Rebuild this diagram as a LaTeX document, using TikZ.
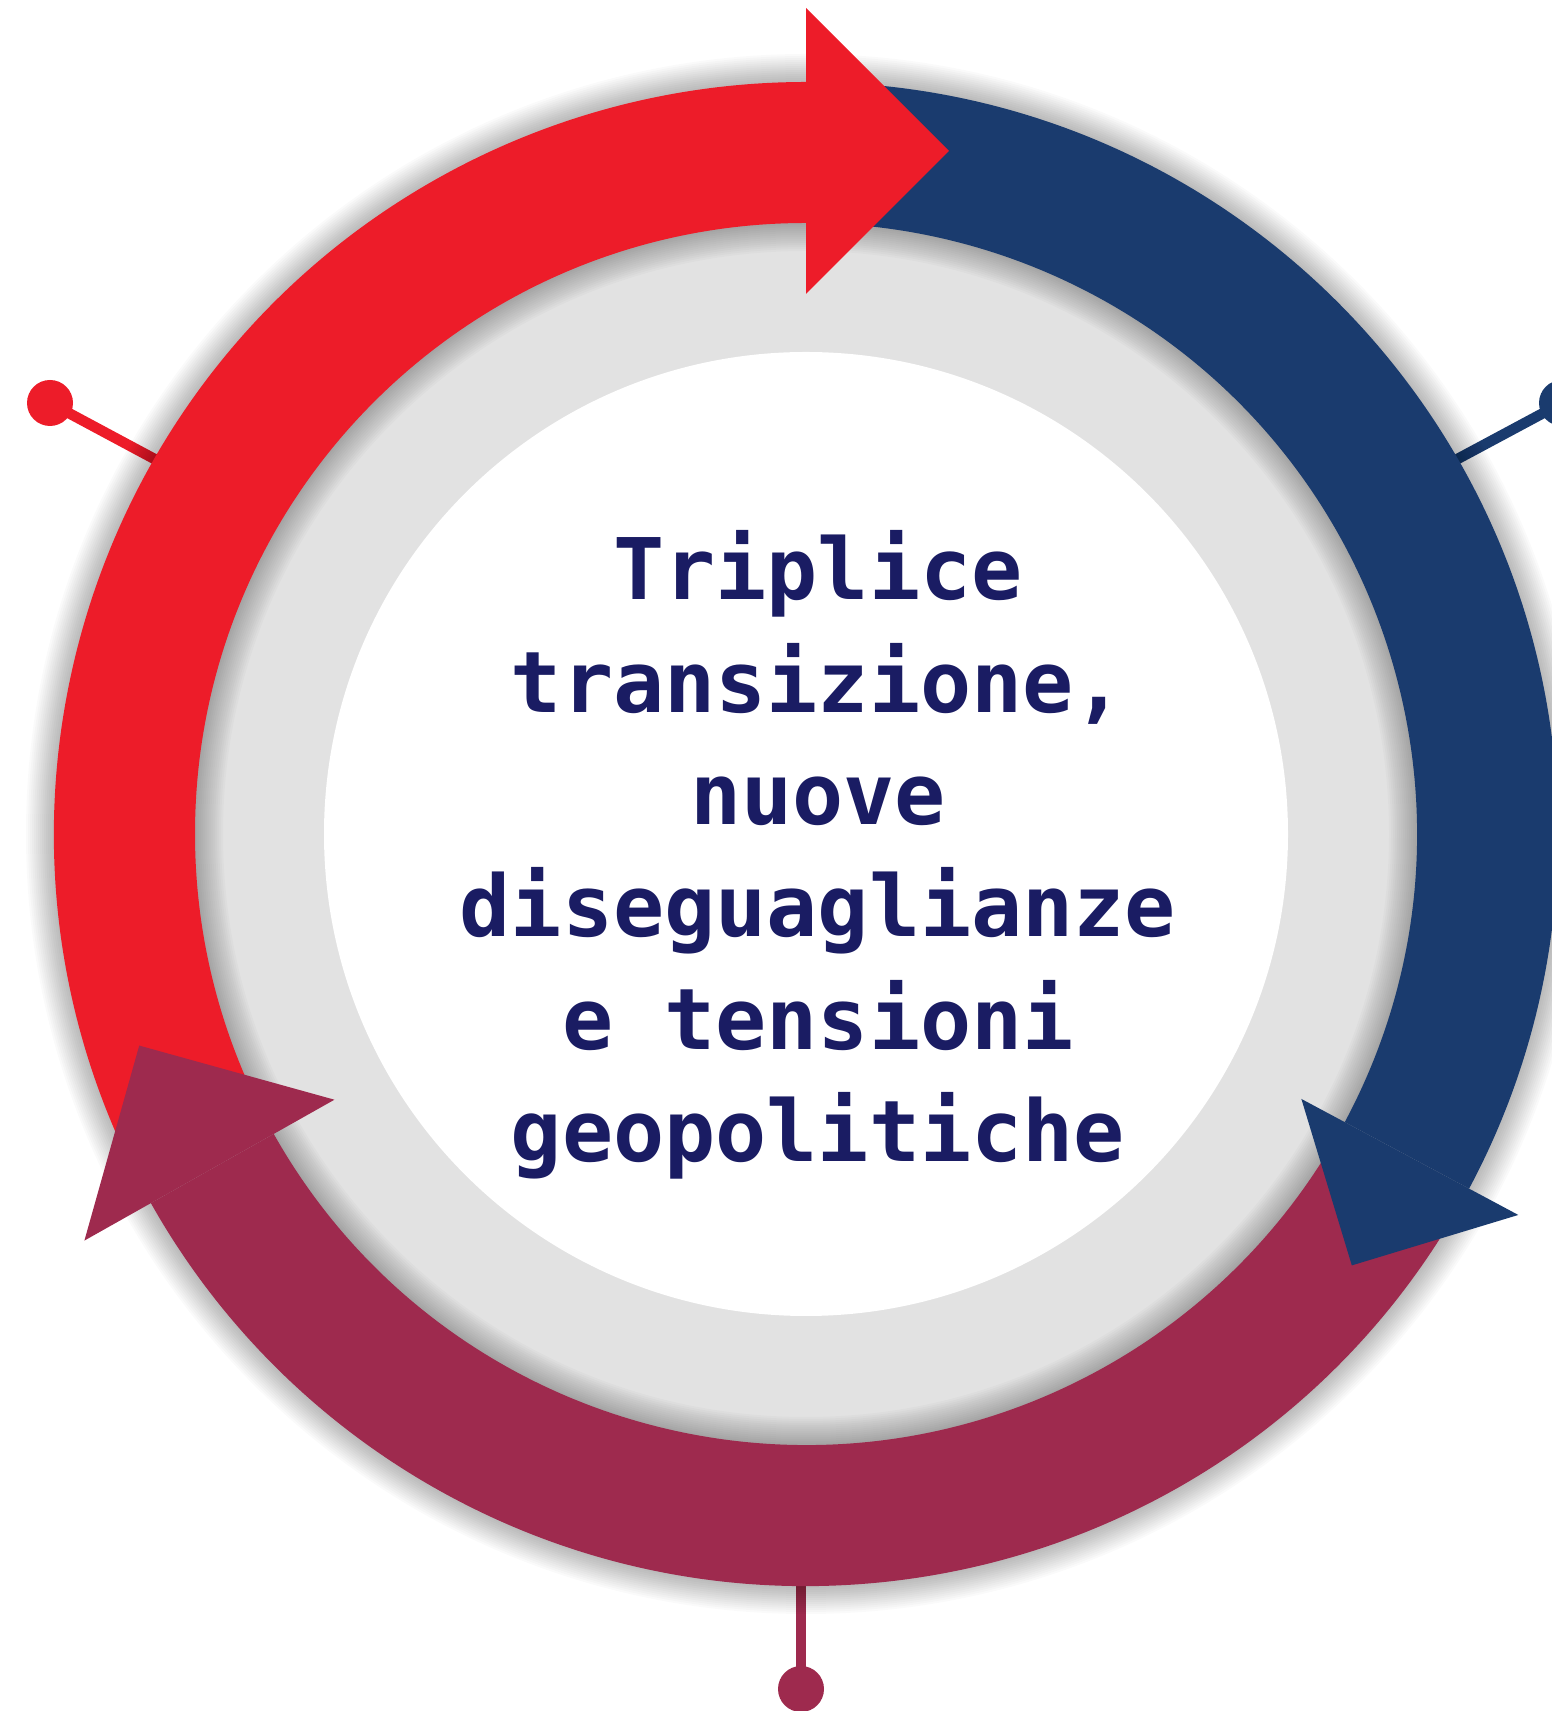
\documentclass[tikz,border=0pt]{standalone}
\usepackage{fontspec}
\newfontfamily\monofnt{DejaVu Sans Mono}
\usetikzlibrary{calc}
\definecolor{cred}{HTML}{ED1C29}
\definecolor{cblue}{HTML}{1A3B6E}
\definecolor{cmaroon}{HTML}{9E2A4E}
\definecolor{cgray}{HTML}{E2E2E2}
\definecolor{ctext}{HTML}{1A1C63}
\begin{document}
\begin{tikzpicture}[x=1pt,y=1pt,
  pinline/.style={line width=10.5pt},
  pindot/.style={circle, minimum size=46pt, inner sep=0pt, draw=none},
  txt/.style={font=\monofnt\bfseries\fontsize{85}{112}\selectfont, text=ctext, anchor=base, inner sep=0pt}]
\fill[white] (0,0) rectangle (1552,1711);
\useasboundingbox (0,0) rectangle (1552,1711);
\coordinate (C) at (806,877);
% background disks
\fill[cgray] (C) circle (616);
\fill[white] (C) circle (482);
% pins
\node[pindot, fill=cred] (pl) at (50,1308) {};
\coordinate (pl0) at ($(C)+(150:720)$);
\draw[pinline, cred] (pl.center) -- (pl0);
\node[pindot, fill=cblue] (pr) at (1562,1308) {};
\coordinate (pr0) at ($(C)+(30:720)$);
\draw[pinline, cblue] (pr.center) -- (pr0);
\node[pindot, fill=cmaroon] (pb) at (801,22) {};
\coordinate (pb0) at (801,157);
\draw[pinline, cmaroon] (pb.center) -- (pb0);
% soft shadow of the ring
\foreach \k [evaluate=\k as \lw using 141+4*\k] in {1,...,14}
  \draw[black, opacity=0.018, line width=\lw pt] (C) circle (681.5);
% bands
\fill[cred] ($(C)+(208:752)$) arc[start angle=208,end angle=90,radius=752]
  -- ($(C)+(90:611)$) arc[start angle=90,end angle=208,radius=611] -- cycle;
\fill[cblue] ($(C)+(88:752)$) arc[start angle=88,end angle=-28.14,radius=752]
  -- ($(C)+(-28.14:611)$) arc[start angle=-28.14,end angle=88,radius=611] -- cycle;
\fill[cmaroon] ($(C)+(-30:752)$) arc[start angle=-30,end angle=-150.6,radius=752]
  -- ($(C)+(-150.6:611)$) arc[start angle=-150.6,end angle=-30,radius=611] -- cycle;
% heads
\fill[cred] ($(C)+(90:826)$) -- ($(C)+(90:683)+(0:143)$) -- ($(C)+(90:540)$) -- cycle;
\fill[cblue] ($(C)+(-28.14:807.8)$) -- ($(C)+(-28.14:684.8)+(-118.14:123)$) -- ($(C)+(-28.14:561.8)$) -- cycle;
\fill[cmaroon] ($(C)+(209.4:828.3)$) -- ($(C)+(209.4:684.8)+(119.4:143)$) -- ($(C)+(209.4:541.3)$) -- cycle;
% text
\node[txt] (t1) at (818,1111) {Triplice};
\node[txt] (t2) at (818,998.7) {transizione,};
\node[txt] (t3) at (818,886.4) {nuove};
\node[txt] (t4) at (818,774.1) {diseguaglianze};
\node[txt] (t5) at (818,661.8) {e tensioni};
\node[txt] (t6) at (818,549.5) {geopolitiche};
\end{tikzpicture}
\end{document}
